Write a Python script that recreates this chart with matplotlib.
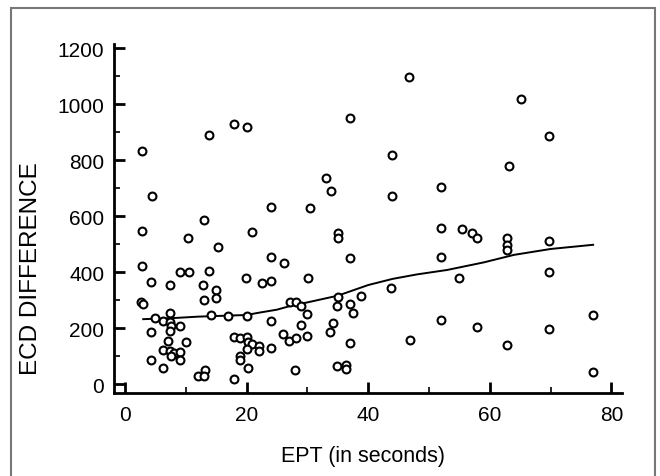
import matplotlib
matplotlib.use("Agg")
import matplotlib.pyplot as plt
from matplotlib.patches import Rectangle
from matplotlib.ticker import MultipleLocator

# ---- data ----
ept = [2.75, 4.4, 13.9, 18.0, 20.1, 24.0, 13.0, 46.7, 37.0, 43.9, 33.1, 33.9, 43.9, 52.0,
       30.4, 65.1, 69.8, 63.2, 55.5, 57.0, 57.9, 62.9, 62.9, 62.9, 69.8, 69.8, 54.9, 57.9,
       76.9, 69.8, 62.9, 76.9, 35.1, 35.0, 51.9, 37.0, 51.9, 26.2, 30.1, 43.8, 38.9, 35.0,
       27.1, 28.1, 28.9, 34.9, 37.0, 37.5, 30.0, 29.0, 34.3, 33.8, 26.0, 27.0, 28.1, 30.0,
       37.0, 46.9, 51.9, 28.0, 34.9, 36.4, 36.4, 2.8, 10.4, 2.8, 9.05, 10.5, 13.9, 4.3,
       7.45, 12.9, 20.9, 15.3, 24.0, 19.95, 22.5, 24.0, 15.0, 15.0, 13.0, 2.7, 3.0, 5.0,
       7.45, 6.2, 7.45, 9.1, 7.5, 7.4, 4.3, 7.0, 10.1, 6.25, 7.35, 8.1, 9.1, 7.5, 9.1,
       4.3, 6.25, 11.95, 13.1, 13.0, 14.1, 17.0, 20.1, 24.0, 17.9, 19.0, 20.0, 20.2, 20.9,
       22.0, 22.0, 20.0, 24.0, 19.0, 19.0, 20.2, 18.0]
ecd = [832, 674, 892, 929, 920, 632, 585, 1097, 953, 818, 736, 689, 673, 705,
       630, 1019, 886, 779, 555, 541, 522, 523, 498, 479, 513, 400, 379, 205,
       248, 198, 141, 42, 539, 521, 557, 451, 456, 434, 379, 345, 314, 312,
       294, 294, 278, 278, 287, 255, 249, 212, 219, 187, 179, 153, 165, 171,
       148, 159, 230, 51, 63, 69, 54, 546, 523, 423, 400, 400, 405, 365,
       355, 355, 544, 491, 455, 379, 362, 367, 337, 309, 302, 292, 285, 237,
       253, 225, 221, 209, 206, 191, 187, 155, 149, 122, 119, 111, 113, 99, 87,
       87, 56, 28, 51, 28, 247, 244, 242, 227, 169, 163, 167, 149, 143,
       135, 117, 125, 130, 101, 86, 58, 18]

trend_x = [3, 8, 12, 16, 20, 22, 25, 27, 30, 35, 40, 44, 48, 53, 59, 64, 70, 77]
trend_y = [232, 236, 241, 244, 247, 255, 266, 278, 292, 316, 354, 376, 392, 408, 435, 462, 483, 498]

x_ticks = [0, 20, 40, 60, 80]
y_ticks = [0, 200, 400, 600, 800, 1000, 1200]

font = ['Liberation Sans', 'DejaVu Sans']

fig = plt.figure(figsize=(6.6, 4.77), dpi=100)
ax = fig.add_axes([114/660, 1 - 394/477, (621.7 - 114)/660, (394 - 45)/477])

ax.scatter(ept, ecd, s=32, facecolors='white', edgecolors='black', linewidths=1.5,
           marker='o', zorder=3)
ax.plot(trend_x, trend_y, color='black', lw=1.4, zorder=2)

ax.set_xlim(-1.8, 81.7)
ax.set_ylim(-32, 1216)
ax.set_xticks(x_ticks)
ax.set_yticks(y_ticks)
ax.xaxis.set_minor_locator(MultipleLocator(10))
ax.yaxis.set_minor_locator(MultipleLocator(100))

for s in ['top', 'right']:
    ax.spines[s].set_visible(False)
for s in ['left', 'bottom']:
    ax.spines[s].set_linewidth(2)

ax.tick_params(which='major', direction='in', length=8, width=2, pad=9)
ax.tick_params(which='minor', direction='in', length=4, width=1.2)
ax.tick_params(axis='y', which='major', pad=7)

for lab in ax.get_xticklabels() + ax.get_yticklabels():
    lab.set_fontfamily(font)
    lab.set_fontsize(15)

ax.set_xlabel('EPT (in seconds)', family=font, fontsize=15.5)
ax.xaxis.set_label_coords((363 - 114) / 507.7, -(462 - 394) / 349)
ax.xaxis.label.set_va('baseline')
ax.set_ylabel('ECD DIFFERENCE', family=font, fontsize=17.5)
ax.yaxis.set_label_coords((42 - 114) / 507.7, (394 - 269) / 349)

fig.add_artist(Rectangle((11/660, -0.1), (655 - 11)/660, 1.1 - 9/477,
                         transform=fig.transFigure, fill=False,
                         edgecolor='#777777', lw=1.5))

fig.savefig('out.png', dpi=100)
